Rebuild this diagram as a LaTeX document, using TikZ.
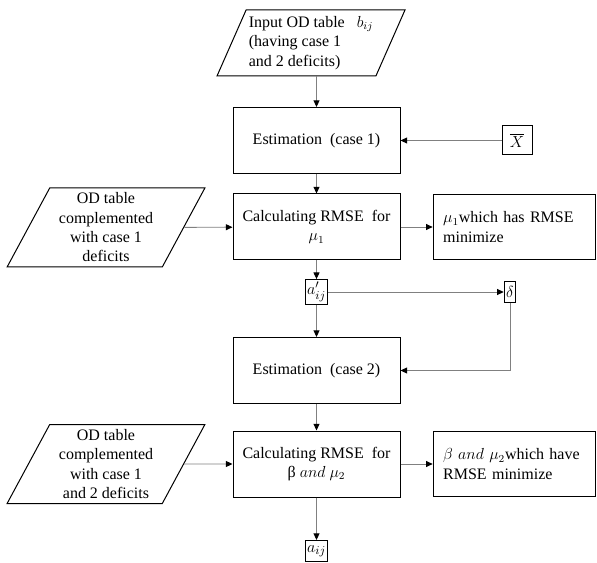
\documentclass[tikz,border=0pt]{standalone}
\usepackage{amsmath}
\usepackage{fontspec}
\setmainfont{Liberation Serif}
\usetikzlibrary{arrows.meta,shapes.geometric}

\begin{document}
\begin{tikzpicture}[
  x=0.75pt,
  y=-0.75pt,
  every node/.style={font=\fontsize{12}{14.5}\selectfont},
  block/.style={
    draw,
    line width=0.75pt,
    align=center,
    minimum width=125.25pt,
    minimum height=49.5pt,
    inner sep=2pt
  },
  result/.style={
    draw,
    line width=0.75pt,
    align=left,
    text width=107pt,
    inner xsep=7.5pt,
    minimum height=48.75pt
  },
  data/.style={
    draw,
    line width=0.75pt,
    trapezium,
    trapezium left angle=63,
    trapezium right angle=117,
    trapezium stretches=true,
    align=center,
    minimum width=148.5pt,
    minimum height=59.25pt,
    inner sep=1pt
  },
  var/.style={
    draw,
    line width=0.75pt,
    inner xsep=1.5pt,
    inner ysep=2pt,
    minimum height=15.75pt,
    font=\fontsize{13}{15}\selectfont
  },
  arrow/.style={draw=black!50, line width=0.7pt, -{Triangle[length=5pt,width=4.5pt,color=black]}}
]
\useasboundingbox (0,0) rectangle (597,563);

\node[data, align=left, minimum width=141pt, minimum height=49.5pt] (input) at (311,43)
  {Input OD table \ \ $b_{ij}$\\(having case 1\\and 2 deficits)};
\node[block] (est1) at (316.5,140.5) {Estimation \ (case 1)};
\node[var, minimum width=22.5pt, minimum height=21.75pt] (xbar) at (517,140.5) {$\overline{X}$};

\node[data] (data1) at (106,227.5) {OD table\\complemented\\with case 1\\deficits};
\node[block] (calc1) at (316.5,227) {Calculating RMSE \ for\\$\mu_1$};
\node[result] (res1) at (514.5,227) {$\mu_1$which has RMSE\\minimize};

\node[var] (aprime) at (316.5,292) {$a'_{ij}$};
\node[var] (delta) at (510,292) {$\delta$};

\node[block] (est2) at (316.5,370.5) {Estimation \ (case 2)};

\node[data] (data2) at (106,464) {OD table\\complemented\\with case 1\\and 2 deficits};
\node[block] (calc2) at (316.5,464) {Calculating RMSE \ for\\β $and\ \mu_2$};
\node[result] (res2) at (514.5,464) {$\beta\ and\ \mu_2$which have\\RMSE minimize};

\node[var] (aij) at (316.5,551) {$a_{ij}$};

\draw[arrow] (input.south -| est1) -- (est1);
\draw[arrow] (xbar) -- (est1);
\draw[arrow] (est1) -- (calc1);
\draw[arrow] (data1) -- (calc1);
\draw[arrow] (calc1) -- (res1);
\draw[arrow] (calc1) -- (aprime);
\draw[arrow] (aprime) -- (delta);
\draw[arrow] (aprime) -- (est2);
\draw[arrow] (delta) |- (est2);
\draw[arrow] (est2) -- (calc2);
\draw[arrow] (data2) -- (calc2);
\draw[arrow] (calc2) -- (res2);
\draw[arrow] (calc2) -- (aij);
\end{tikzpicture}
\end{document}
